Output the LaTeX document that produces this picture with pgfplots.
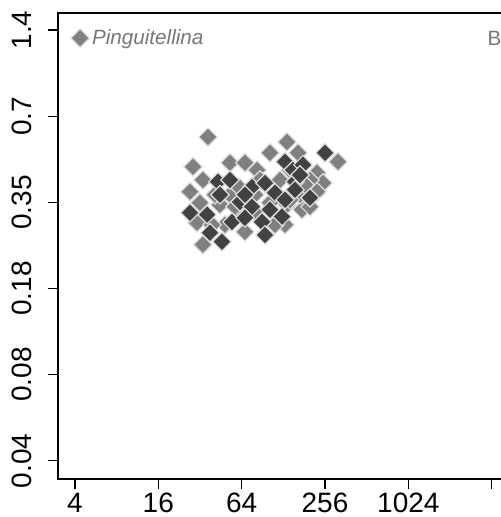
\documentclass[border=0pt]{standalone}
\usepackage{pgfplots}
\pgfplotsset{compat=1.18}
\usepackage{fontspec}
\setmainfont{Liberation Sans}
\definecolor{lightpt}{HTML}{808080}
\definecolor{darkpt}{HTML}{424242}
\definecolor{ptedge}{HTML}{DDDDDD}
\definecolor{labgray}{HTML}{777777}
\begin{document}
\begin{tikzpicture}
\begin{axis}[
  at={(43.5pt,28.5pt)}, anchor=south west,
  scale only axis, width=338.25pt, height=349.5pt,
  xmode=log, ymode=log,
  xmin=3.016, xmax=5463, ymin=0.0378, ymax=1.605,
  xtick={4,16,64,256,1024,4096},
  xticklabels={4,16,64,256,1024,{}},
  ytick={0.04375,0.0875,0.175,0.35,0.7,1.4},
  yticklabels={0.04,0.08,0.18,0.35,0.7,1.4},
  tick pos=left, tick align=outside,
  major tick length=7.5pt,
  axis line style={line width=0.8pt},
  every tick/.style={line width=0.8pt, black},
  /pgf/number format/assume math mode=true,
  tick label style={font=\fontsize{21}{25}\selectfont},
  yticklabel style={rotate=90, anchor=south, inner sep=12pt},
  xticklabel style={inner sep=3pt},
  legend style={at={(axis description cs:0.025,0.946)}, anchor=west, draw=none, fill=none,
    font=\fontsize{15.5}{18}\selectfont\itshape, text=labgray, inner sep=1pt},
  legend cell align=left,
]
\addplot[only marks, mark=square*, mark size=4.9pt,
  mark options={rotate=45, fill=lightpt, draw=ptedge, line width=0.9pt}]
table {
x y
36.6 0.592
136.0 0.569
28.5 0.466
52.7 0.481
102.5 0.521
163.4 0.521
317.8 0.485
82.6 0.454
67.6 0.481
33.6 0.419
27.1 0.381
224.1 0.444
247.6 0.409
32.0 0.349
33.6 0.249
136.0 0.343
102.5 0.349
44.6 0.343
64.4 0.312
30.4 0.297
224.1 0.381
174.6 0.330
199.5 0.338
52.7 0.372
79.9 0.372
121.1 0.419
168.9 0.372
41.1 0.372
67.6 0.276
131.6 0.292
57.3 0.338
86.8 0.419
48.5 0.292
143.0 0.454
199.5 0.419
79.9 0.324
143.0 0.357
62.2 0.393
39.1 0.292
111.4 0.292
183.5 0.403
};
\addlegendentry{Pinguitellina}
\addplot[only marks, mark=square*, mark size=4.9pt,
  mark options={rotate=45, fill=darkpt, draw=ptedge, line width=0.9pt}, forget plot]
table {
x y
256 0.521
131.6 0.485
150.3 0.454
177.5 0.473
43.2 0.413
52.7 0.419
76.0 0.396
94.4 0.409
111.4 0.378
155.4 0.413
199.5 0.363
27.1 0.322
36.0 0.317
62.2 0.351
76.0 0.338
54.5 0.299
89.8 0.299
125.2 0.312
94.4 0.269
37.8 0.274
46.1 0.255
155.4 0.387
67.6 0.372
102.5 0.330
67.6 0.309
131.6 0.357
44.6 0.372
168.9 0.436
};
\node[text=labgray, font=\fontsize{15.5}{18}\selectfont, anchor=west, inner sep=0pt]
  at (axis description cs:0.952,0.946) {B};
\end{axis}
\pgfresetboundingbox
\path (0,0) rectangle (375pt,387.75pt);
\end{tikzpicture}
\end{document}
